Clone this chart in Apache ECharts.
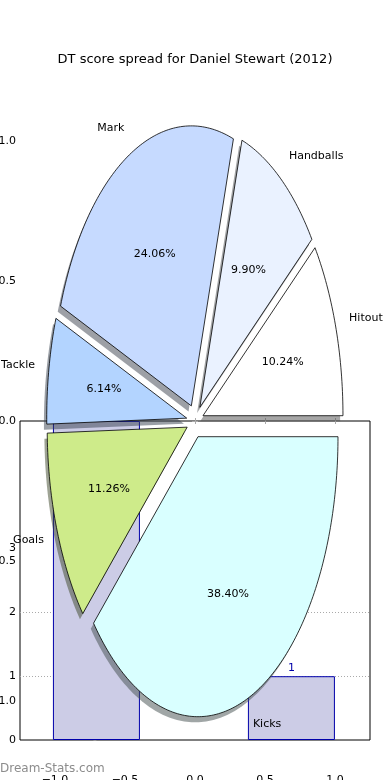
<!DOCTYPE html>
<html><head><meta charset="utf-8">
<script src="https://cdn.jsdelivr.net/npm/echarts@6/dist/echarts.min.js"></script>
<style>html,body{margin:0;padding:0;background:#fff}#c{width:390px;height:780px}</style>
</head><body><div id="c"></div>
<script>
const titleText = 'DT score spread for Daniel Stewart (2012)';
const watermarkText = 'Dream-Stats.com';
const sliceLabels = ['Hitout', 'Handballs', 'Mark', 'Tackle', 'Goals', 'Kicks'];
const slicePercents = [10.24, 9.90, 24.06, 6.14, 11.26, 38.40];
const sliceColors = ['#ffffff', '#eaf2ff', '#c6daff', '#b3d4ff', '#ceeb8a', '#d9ffff'];
const barPositions = [0, 1];
const barValues = [5, 1];
const barTickLabels = [0, 1, 2, 3];
const barGridValues = [1, 2];
const pieTickValues = [-1, -0.5, 0, 0.5, 1];
const EXPLODE = 0.06;
const SHADOW_OFFSET = -0.02;
const FONT = 'DejaVu Sans';

const total = slicePercents.reduce((a, b) => a + b, 0);
function geom(i) {
  let cum = 0;
  for (let k = 0; k < i; k++) cum += slicePercents[k];
  const a0 = cum / total * 2 * Math.PI;
  const a1 = (cum + slicePercents[i]) / total * 2 * Math.PI;
  const am = (a0 + a1) / 2;
  return { a0, a1, am, cx: EXPLODE * Math.cos(am), cy: EXPLODE * Math.sin(am) };
}
function wedgePoints(api, g, dx, dy) {
  const pts = [api.coord([g.cx + dx, g.cy + dy])];
  const n = Math.max(10, Math.ceil((g.a1 - g.a0) / (Math.PI / 180)));
  for (let k = 0; k <= n; k++) {
    const a = g.a0 + (g.a1 - g.a0) * k / n;
    pts.push(api.coord([g.cx + dx + Math.cos(a), g.cy + dy + Math.sin(a)]));
  }
  return pts;
}
function shadowColor(hex) {
  const r = parseInt(hex.slice(1, 3), 16), g = parseInt(hex.slice(3, 5), 16), b = parseInt(hex.slice(5, 7), 16);
  return 'rgba(' + Math.round(r * 0.3) + ',' + Math.round(g * 0.3) + ',' + Math.round(b * 0.3) + ',0.5)';
}
const pieFmt = v => (v < 0 ? '\u2212' : '') + Math.abs(v).toFixed(1);
const sliceData = sliceLabels.map((name, i) => ({ name, value: [i, slicePercents[i]] }));

const chart = echarts.init(document.getElementById('c'), null, { renderer: 'canvas' });
chart.setOption({
  animation: false,
  backgroundColor: '#fff',
  textStyle: { fontFamily: FONT },
  title: {
    text: titleText, left: 'center', top: 53, padding: 0,
    textStyle: { fontSize: 13, fontWeight: 'normal', fontFamily: FONT, color: '#000' }
  },
  graphic: [{
    type: 'text', left: 0, top: 763, z: 100,
    style: { text: watermarkText, font: '12px ' + FONT, fill: '#8c8c8c' }
  }],
  grid: [
    { left: 20, width: 350, top: 421, height: 319, show: true, borderColor: '#000', borderWidth: 1, backgroundColor: 'transparent', containLabel: false, outerBoundsMode: 'none' },
    { left: 20, width: 350, top: 71, height: 700, show: false, containLabel: false, outerBoundsMode: 'none' }
  ],
  xAxis: [
    { gridIndex: 0, type: 'value', min: -0.392, max: 1.403, show: false },
    {
      gridIndex: 1, type: 'value', min: -1.25, max: 1.25, position: 'bottom',
      axisLine: { show: false }, splitLine: { show: false },
      axisTick: { show: true, inside: true, length: 3, customValues: pieTickValues, lineStyle: { color: '#aaa' } },
      axisLabel: { customValues: pieTickValues, formatter: pieFmt, fontSize: 11, color: '#000', margin: 4, fontFamily: FONT }
    },
    {
      gridIndex: 1, type: 'value', min: -1.25, max: 1.25, position: 'top',
      axisLine: { show: false }, splitLine: { show: false },
      axisTick: { show: true, inside: true, length: 3, customValues: pieTickValues, lineStyle: { color: '#aaa' } },
      axisLabel: { show: false }
    }
  ],
  yAxis: [
    {
      gridIndex: 0, type: 'value', min: 0, max: 5, position: 'left',
      axisLine: { show: false }, splitLine: { show: false },
      axisTick: { show: true, inside: false, length: 3, customValues: barTickLabels, lineStyle: { color: '#999' } },
      axisLabel: { customValues: barTickLabels, fontSize: 11, color: '#000', margin: 4, fontFamily: FONT }
    },
    {
      gridIndex: 0, type: 'value', min: 0, max: 5, position: 'right',
      axisLine: { show: false }, axisLabel: { show: false },
      axisTick: { show: false, customValues: barGridValues },
      splitLine: { show: true, lineStyle: { type: [1, 2], color: '#aaa', width: 1 } }
    },
    {
      gridIndex: 1, type: 'value', min: -1.25, max: 1.25, position: 'left',
      axisLine: { show: false }, splitLine: { show: false },
      axisTick: { show: true, inside: true, length: 3, customValues: pieTickValues, lineStyle: { color: '#aaa' } },
      axisLabel: { customValues: pieTickValues, formatter: pieFmt, fontSize: 11, color: '#000', margin: 4, fontFamily: FONT }
    },
    {
      gridIndex: 1, type: 'value', min: -1.25, max: 1.25, position: 'right',
      axisLine: { show: false }, splitLine: { show: false },
      axisTick: { show: true, inside: true, length: 3, customValues: pieTickValues, lineStyle: { color: '#aaa' } },
      axisLabel: { show: false }
    }
  ],
  series: [
    {
      type: 'bar', xAxisIndex: 0, yAxisIndex: 0, z: 2,
      data: barPositions.map((p, i) => [p, barValues[i]]),
      barWidth: 87,
      itemStyle: { color: '#cccce6', borderColor: '#0000aa', borderWidth: 1 },
      label: { show: true, position: 'top', distance: 3, color: '#0000aa', fontSize: 11, fontFamily: FONT, formatter: p => String(p.value[1]) }
    },
    {
      type: 'custom', coordinateSystem: 'cartesian2d', xAxisIndex: 1, yAxisIndex: 2, z: 5, clip: false,
      data: sliceData,
      renderItem: (params, api) => {
        const i = params.dataIndex, g = geom(i);
        return {
          type: 'polygon',
          shape: { points: wedgePoints(api, g, SHADOW_OFFSET, SHADOW_OFFSET) },
          style: { fill: shadowColor(sliceColors[i]), stroke: null }
        };
      }
    },
    {
      type: 'custom', coordinateSystem: 'cartesian2d', xAxisIndex: 1, yAxisIndex: 2, z: 6, clip: false,
      data: sliceData,
      renderItem: (params, api) => {
        const i = params.dataIndex, g = geom(i);
        const dx = Math.cos(g.am), dy = Math.sin(g.am);
        const lab = api.coord([g.cx + 1.1 * dx, g.cy + 1.1 * dy]);
        const pct = api.coord([g.cx + 0.6 * dx, g.cy + 0.6 * dy]);
        return {
          type: 'group',
          children: [
            {
              type: 'polygon',
              shape: { points: wedgePoints(api, g, 0, 0) },
              style: { fill: sliceColors[i], stroke: '#000', lineWidth: 0.8 }
            },
            {
              type: 'text', x: lab[0], y: lab[1],
              style: { text: sliceLabels[i], align: dx > 0 ? 'left' : 'right', verticalAlign: 'middle', font: '11px ' + FONT, fill: '#000' }
            },
            {
              type: 'text', x: pct[0], y: pct[1],
              style: { text: slicePercents[i].toFixed(2) + '%', align: 'center', verticalAlign: 'middle', font: '11px ' + FONT, fill: '#000' }
            }
          ]
        };
      }
    }
  ]
});
</script></body></html>
